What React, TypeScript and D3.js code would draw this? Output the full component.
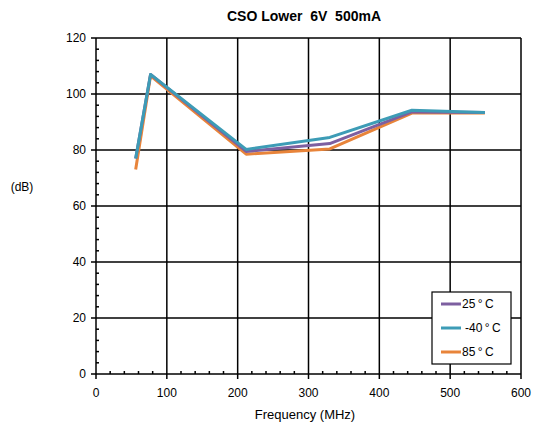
import React from 'react';
import * as d3 from 'd3';

const freqs = [56, 77, 212, 330, 446, 549];
const t25 = [77, 107, 79.5, 82.3, 93.6, 93.4];
const tMinus40 = [77, 107, 80.2, 84.5, 94.2, 93.4];
const t85 = [73, 106.5, 78.5, 80.4, 93.2, 93.2];

const seriesNames = ['25\u00b0C', '-40\u00b0C', '85\u00b0C'];
const seriesValues = [t25, tMinus40, t85];
const seriesColors = ['#7d5fa0', '#3d9cb6', '#e8843a'];

const xTicks = [0, 100, 200, 300, 400, 500, 600];
const yTicks = [0, 20, 40, 60, 80, 100, 120];

const W = 535;
const H = 431;
const left = 96;
const right = 521;
const top = 38;
const bottom = 374;
const font = 'Liberation Sans, Arial, sans-serif';

const App = () => {
  const x = d3.scaleLinear().domain([0, 600]).range([left, right]);
  const y = d3.scaleLinear().domain([0, 120]).range([bottom, top]);

  const line = d3.line<number>()
    .x((_, i) => x(freqs[i]))
    .y(d => y(d));

  const xMinor = d3.range(0, 601, 20).filter(v => v % 100 !== 0);
  const yMinor = d3.range(0, 121, 4).filter(v => v % 20 !== 0);

  // draw order: 85 at bottom, then 25, teal on top
  const order = [2, 0, 1];

  return (
    <svg width={W} height={H} style={{ position: 'absolute', left: 0, top: 0, background: '#fff' }}>
      <text x={304} y={21} textAnchor="middle" fontFamily={font} fontWeight="bold" fontSize={14}
        style={{ whiteSpace: 'pre' }}>
        {'CSO Lower  6V  500mA'}
      </text>

      {/* grid */}
      {yTicks.map(v => (
        <line key={'gy' + v} x1={left} x2={right} y1={y(v)} y2={y(v)} stroke="#000" strokeWidth={1.5} />
      ))}
      {xTicks.map(v => (
        <line key={'gx' + v} x1={x(v)} x2={x(v)} y1={top} y2={bottom} stroke="#000" strokeWidth={1.5} />
      ))}

      {/* major ticks, outward */}
      {yTicks.map(v => (
        <line key={'ty' + v} x1={left - 5} x2={left} y1={y(v)} y2={y(v)} stroke="#000" strokeWidth={1.5} />
      ))}
      {xTicks.map(v => (
        <line key={'tx' + v} x1={x(v)} x2={x(v)} y1={bottom} y2={bottom + 5} stroke="#000" strokeWidth={1.5} />
      ))}
      {/* minor ticks, inward */}
      {yMinor.map(v => (
        <line key={'my' + v} x1={left} x2={left + 3} y1={y(v)} y2={y(v)} stroke="#000" strokeWidth={1.5} />
      ))}
      {xMinor.map(v => (
        <line key={'mx' + v} x1={x(v)} x2={x(v)} y1={bottom - 3} y2={bottom} stroke="#000" strokeWidth={1.5} />
      ))}

      {yTicks.map(v => (
        <text key={'ly' + v} x={left - 10} y={y(v) + 4} textAnchor="end" fontFamily={font} fontSize={12}>
          {v}
        </text>
      ))}
      {xTicks.map(v => (
        <text key={'lx' + v} x={x(v)} y={397} textAnchor="middle" fontFamily={font} fontSize={12}>
          {v}
        </text>
      ))}

      <text x={22} y={191} textAnchor="middle" fontFamily={font} fontSize={12}>(dB)</text>
      <text x={305} y={419} textAnchor="middle" fontFamily={font} fontSize={13}>Frequency (MHz)</text>

      {order.map(i => (
        <path key={'s' + i} d={line(seriesValues[i]) || ''} fill="none" stroke={seriesColors[i]}
          strokeWidth={3} strokeLinejoin="round" />
      ))}

      {/* legend */}
      <rect x={432} y={292} width={79} height={72} fill="#fff" stroke="#000" strokeWidth={1.2} />
      {seriesNames.map((n, i) => (
        <g key={'lg' + i}>
          <line x1={441} x2={461} y1={304 + i * 24} y2={304 + i * 24} stroke={seriesColors[i]} strokeWidth={3} />
          <text x={i === 1 ? 465 : 462} y={308 + i * 24} fontFamily={font} fontSize={12}>{n.replace('\u00b0', '\u2009\u00b0\u2009')}</text>
        </g>
      ))}
    </svg>
  );
};

export default App;
